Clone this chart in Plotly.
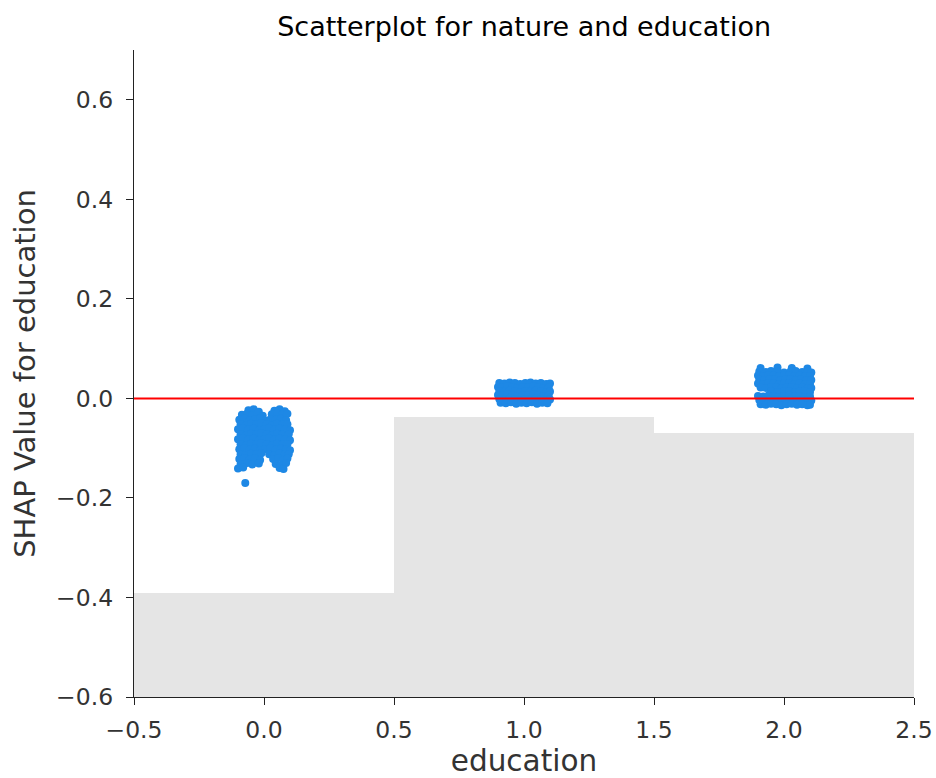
import plotly.graph_objects as go

# ---------------- data ----------------
title_text = "Scatterplot for nature and education"
x_label = "education"
y_label = "SHAP Value for education"

# background histogram (bin centres, bar tops; bars start at the axis floor)
hist_centers = [0.0, 1.0, 2.0]
hist_tops = [-0.392, -0.038, -0.070]
hist_base = -0.6

# points near education = 0
c0_x = [
    -0.06, -0.04, -0.02, 0.04, 0.06, 0.08,
    -0.085, -0.065, -0.045, -0.025, -0.005, 0.03, 0.05, 0.07, 0.09,
    -0.095, -0.075, -0.055, -0.035, -0.015, 0.005, 0.025, 0.045, 0.065, 0.085,
    -0.09, -0.07, -0.05, -0.03, -0.01, 0.01, 0.03, 0.05, 0.07, 0.09,
    -0.10, -0.08, -0.06, -0.04, -0.02, 0.00, 0.02, 0.04, 0.06, 0.08, 0.10,
    -0.09, -0.07, -0.05, -0.03, -0.01, 0.01, 0.03, 0.05, 0.07, 0.095,
    -0.10, -0.08, -0.06, -0.04, -0.02, 0.00, 0.02, 0.04, 0.06, 0.08, 0.10,
    -0.09, -0.07, -0.05, -0.03, -0.01, 0.01, 0.03, 0.05, 0.07, 0.09,
    -0.095, -0.075, -0.055, -0.035, -0.015, 0.005, 0.025, 0.045, 0.065, 0.085, 0.10,
    -0.09, -0.07, -0.05, -0.03, -0.01, 0.02, 0.04, 0.06, 0.08, 0.095,
    -0.095, -0.075, -0.055, -0.035, -0.015, 0.035, 0.055, 0.075, 0.09,
    -0.09, -0.065, -0.045, -0.02, 0.045, 0.065, 0.085,
    -0.10, -0.08, 0.06, 0.075,
    -0.072,
]
c0_y = [
    -0.024, -0.022, -0.027, -0.025, -0.022, -0.026,
    -0.033, -0.031, -0.034, -0.030, -0.035, -0.032, -0.030, -0.033, -0.031,
    -0.043, -0.041, -0.044, -0.042, -0.040, -0.045, -0.042, -0.043, -0.041, -0.044,
    -0.052, -0.054, -0.051, -0.053, -0.050, -0.052, -0.055, -0.051, -0.053, -0.052,
    -0.062, -0.060, -0.063, -0.061, -0.064, -0.062, -0.060, -0.063, -0.061, -0.062, -0.064,
    -0.072, -0.074, -0.071, -0.073, -0.070, -0.072, -0.074, -0.071, -0.073, -0.072,
    -0.082, -0.080, -0.083, -0.081, -0.084, -0.082, -0.080, -0.083, -0.081, -0.082, -0.084,
    -0.092, -0.094, -0.091, -0.093, -0.090, -0.092, -0.094, -0.091, -0.093, -0.092,
    -0.102, -0.100, -0.103, -0.101, -0.104, -0.102, -0.100, -0.103, -0.101, -0.102, -0.104,
    -0.112, -0.114, -0.111, -0.113, -0.110, -0.112, -0.114, -0.111, -0.113, -0.112,
    -0.122, -0.120, -0.123, -0.121, -0.124, -0.122, -0.120, -0.123, -0.121,
    -0.132, -0.130, -0.133, -0.131, -0.132, -0.134, -0.130,
    -0.141, -0.139, -0.140, -0.142,
    -0.170,
]

# points near education = 1
c1_x = [
    0.905, 0.925, 0.945, 0.965, 0.985, 1.005, 1.025, 1.045, 1.065, 1.085, 1.10,
    0.90, 0.915, 0.935, 0.955, 0.975, 0.995, 1.015, 1.035, 1.055, 1.075, 1.095,
    0.905, 0.925, 0.945, 0.965, 0.985, 1.005, 1.025, 1.045, 1.065, 1.085, 1.10,
    0.90, 0.915, 0.935, 0.955, 0.975, 0.995, 1.015, 1.035, 1.055, 1.075, 1.095,
    0.905, 0.925, 0.945, 0.965, 0.985, 1.005, 1.025, 1.045, 1.065, 1.085, 1.10,
    0.91, 0.93, 0.95, 0.97, 0.99, 1.01, 1.03, 1.05, 1.07, 1.09,
]
c1_y = [
    0.031, 0.030, 0.032, 0.031, 0.029, 0.031, 0.032, 0.030, 0.031, 0.029, 0.030,
    0.023, 0.022, 0.024, 0.023, 0.021, 0.023, 0.022, 0.024, 0.023, 0.021, 0.022,
    0.015, 0.014, 0.016, 0.015, 0.013, 0.015, 0.014, 0.016, 0.015, 0.013, 0.014,
    0.007, 0.006, 0.008, 0.007, 0.005, 0.007, 0.006, 0.008, 0.007, 0.005, 0.006,
    -0.001, -0.002, 0.000, -0.001, -0.003, -0.001, -0.002, 0.000, -0.001, -0.003, -0.002,
    -0.009, -0.010, -0.008, -0.011, -0.009, -0.010, -0.008, -0.011, -0.009, -0.010,
]

# points near education = 2
c2_x = [
    1.91, 1.975, 2.03, 2.09,
    1.905, 1.93, 1.95, 1.975, 2.00, 2.025, 2.045, 2.07, 2.09, 2.105,
    1.90, 1.92, 1.94, 1.96, 1.98, 2.00, 2.02, 2.04, 2.06, 2.08, 2.10,
    1.905, 1.925, 1.945, 1.965, 1.985, 2.005, 2.025, 2.045, 2.065, 2.085, 2.105,
    1.90, 1.92, 1.94, 1.96, 1.98, 2.00, 2.02, 2.04, 2.06, 2.08, 2.10,
    1.91, 1.93, 1.95, 1.97, 1.99, 2.01, 2.03, 2.05, 2.07, 2.09, 2.105,
    1.95, 1.975, 2.00, 2.02, 2.04, 2.06, 2.08, 2.10,
    1.90, 1.92, 1.94, 1.96, 1.98, 2.00, 2.02, 2.04, 2.06, 2.08, 2.10,
    1.905, 1.925, 1.945, 1.965, 1.985, 2.005, 2.025, 2.045, 2.065, 2.085, 2.105,
    1.91, 1.93, 1.95, 1.97, 1.99, 2.01, 2.03, 2.05, 2.07, 2.09, 2.10,
]
c2_y = [
    0.061, 0.062, 0.061, 0.060,
    0.054, 0.053, 0.055, 0.054, 0.052, 0.054, 0.055, 0.053, 0.054, 0.052,
    0.046, 0.045, 0.047, 0.046, 0.044, 0.046, 0.047, 0.045, 0.046, 0.044, 0.045,
    0.038, 0.037, 0.039, 0.038, 0.036, 0.038, 0.039, 0.037, 0.038, 0.036, 0.037,
    0.030, 0.029, 0.031, 0.030, 0.028, 0.030, 0.031, 0.029, 0.030, 0.028, 0.029,
    0.022, 0.021, 0.023, 0.022, 0.020, 0.022, 0.023, 0.021, 0.022, 0.020, 0.021,
    0.014, 0.013, 0.015, 0.014, 0.012, 0.014, 0.015, 0.013,
    0.005, 0.004, 0.006, 0.005, 0.003, 0.005, 0.006, 0.004, 0.005, 0.003, 0.004,
    -0.003, -0.004, -0.002, -0.003, -0.005, -0.003, -0.002, -0.004, -0.003, -0.005, -0.004,
    -0.012, -0.013, -0.011, -0.012, -0.014, -0.012, -0.011, -0.013, -0.012, -0.014, -0.013,
]

x_range = [-0.5, 2.5]
y_range = [-0.6, 0.7]
x_ticks = [-0.5, 0.0, 0.5, 1.0, 1.5, 2.0, 2.5]
y_ticks = [-0.6, -0.4, -0.2, 0.0, 0.2, 0.4, 0.6]
ref_line_y = 0.0

# ---------------- figure ----------------
fig = go.Figure()

fig.add_trace(go.Bar(
    x=hist_centers,
    y=[t - hist_base for t in hist_tops],
    base=hist_base,
    width=1.0,
    marker=dict(color="#e5e5e5", line=dict(width=0)),
    hoverinfo="skip",
    showlegend=False,
))

fig.add_trace(go.Scatter(
    x=c0_x + c1_x + c2_x,
    y=c0_y + c1_y + c2_y,
    mode="markers",
    marker=dict(color="#1E88E5", size=8, line=dict(width=0)),
    showlegend=False,
))

fig.add_trace(go.Scatter(
    x=x_range,
    y=[ref_line_y, ref_line_y],
    mode="lines",
    line=dict(color="#ff0000", width=2),
    showlegend=False,
))

font_family = "DejaVu Sans"
fig.update_layout(
    template="none",
    width=936,
    height=778,
    margin=dict(l=134, r=22, t=50, b=81, autoexpand=False),
    paper_bgcolor="white",
    plot_bgcolor="white",
    font=dict(family=font_family, color="#333333"),
    title=dict(text=title_text, x=0.56, xanchor="center", y=0.966, yanchor="middle",
               font=dict(size=27, color="#000000", family=font_family)),
    bargap=0,
    xaxis=dict(
        range=x_range, tickvals=x_ticks, tickformat=".1f", automargin=False,
        showline=True, linecolor="#222222", linewidth=1.2,
        ticks="outside", ticklen=7, tickcolor="#222222", tickwidth=1.2,
        ticklabelstandoff=5,
        showgrid=False, zeroline=False,
        tickfont=dict(size=23.5, color="#333333"),
        title=dict(text=x_label, font=dict(size=29.5, color="#333333"), standoff=11),
    ),
    yaxis=dict(
        range=y_range, tickvals=y_ticks, tickformat=".1f", automargin=False,
        showline=True, linecolor="#222222", linewidth=1.2,
        ticks="outside", ticklen=7, tickcolor="#222222", tickwidth=1.2,
        ticklabelstandoff=8,
        showgrid=False, zeroline=False,
        tickfont=dict(size=23.5, color="#333333"),
        title=dict(text=y_label, font=dict(size=29, color="#333333"), standoff=11),
    ),
)

fig.write_html("out.html", config={"displayModeBar": False},
               post_script="document.body.style.margin='0px';")
